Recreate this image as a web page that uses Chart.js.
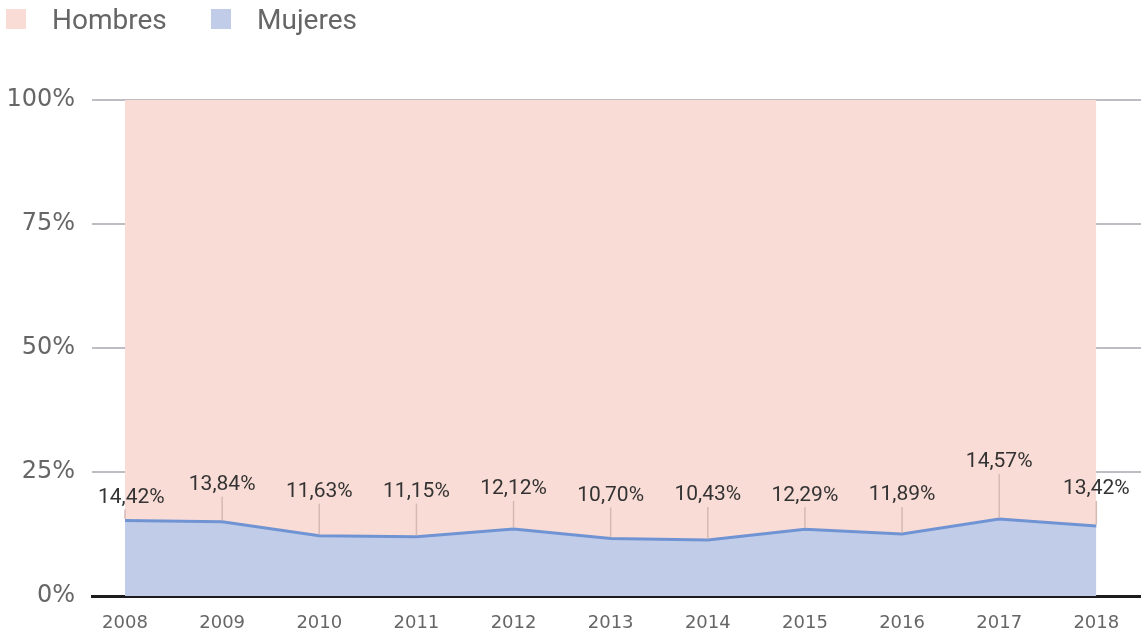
<!DOCTYPE html>
<html lang="es">
<head>
<meta charset="utf-8">
<title>Hombres y mujeres</title>
<script src="https://cdn.jsdelivr.net/npm/chart.js@4/dist/chart.umd.min.js"></script>
<style>
  html, body { margin: 0; padding: 0; background: #fff; }
  #wrap { position: relative; width: 1141px; height: 637px; font-family: Roboto, sans-serif; }
  #chart { position: absolute; left: 0; top: 0; }
  .legend-item { position: absolute; top: 0; height: 38px; display: flex; align-items: center; color: #666; font-size: 28px; }
  .legend-box { width: 20px; height: 20px; margin-right: 26px; }
</style>
</head>
<body>
<div id="wrap">
  <canvas id="chart" width="1141" height="637"></canvas>
  <div class="legend-item" style="left:6px"><span class="legend-box" style="background:#fadcd6"></span>Hombres</div>
  <div class="legend-item" style="left:211px"><span class="legend-box" style="background:#c1cde8"></span>Mujeres</div>
</div>
<script>
const years = [2008, 2009, 2010, 2011, 2012, 2013, 2014, 2015, 2016, 2017, 2018];
const yTicks = [0, 25, 50, 75, 100];
// share drawn by the line
const mujeres = [15.22, 14.98, 12.16, 11.96, 13.51, 11.59, 11.29, 13.45, 12.50, 15.52, 14.11];
const hombres = [84.78, 85.02, 87.84, 88.04, 86.49, 88.41, 88.71, 86.55, 87.50, 84.48, 85.89];
// printed labels on each point
const etiquetas = ["14,42%", "13,84%", "11,63%", "11,15%", "12,12%", "10,70%", "10,43%", "12,29%", "11,89%", "14,57%", "13,42%"];

const etiquetasPlugin = {
  id: "etiquetas",
  afterDraw(chart, args, opts) {
    const meta = chart.getDatasetMeta(0);
    const ctx = chart.ctx;
    const area = chart.chartArea;
    ctx.save();
    ctx.font = "21px Roboto, sans-serif";
    ctx.textAlign = "center";
    ctx.textBaseline = "middle";
    meta.data.forEach((pt, i) => {
      const ty = pt.y - opts.lift[i];
      ctx.strokeStyle = "#d6b9b2";
      ctx.lineWidth = 1.5;
      ctx.beginPath();
      ctx.moveTo(pt.x, ty + 12);
      ctx.lineTo(pt.x, pt.y - 1.5);
      ctx.stroke();
      const w = ctx.measureText(etiquetas[i]).width;
      let tx = pt.x;
      if (tx - w / 2 < area.left + 6) tx = area.left + 6 + w / 2;
      ctx.fillStyle = "#333";
      ctx.fillText(etiquetas[i], tx, ty);
    });
    ctx.restore();
  },
};

new Chart(document.getElementById("chart"), {
  type: "line",
  data: {
    datasets: [
      {
        label: "Mujeres",
        data: years.map((a, i) => ({ x: a, y: mujeres[i] })),
        fill: "origin",
        backgroundColor: "#c1cde8",
        borderColor: "#7094d3",
        borderWidth: 3,
        pointRadius: 0,
        tension: 0,
      },
      {
        label: "Hombres",
        data: years.map((a, i) => ({ x: a, y: hombres[i] })),
        fill: "-1",
        backgroundColor: "#fadcd6",
        borderWidth: 0,
        pointRadius: 0,
        tension: 0,
      },
    ],
  },
  options: {
    responsive: false,
    animation: false,
    layout: { padding: { top: 100, left: 0, right: 0, bottom: 0 } },
    plugins: {
      legend: { display: false },
      tooltip: { enabled: false },
      etiquetas: { lift: [23, 37, 44, 45, 40, 43, 45, 34, 39, 57, 37] },
    },
    scales: {
      x: {
        type: "linear",
        min: 2007.66,
        max: 2018.46,
        z: 1,
        afterBuildTicks: (axis) => { axis.ticks = years.map((v) => ({ value: v })); },
        afterFit: (axis) => { axis.height = 41; },
        grid: { display: false },
        border: { display: true, color: "#1c1c1c", width: 3 },
        ticks: {
          padding: 9,
          color: "#666",
          font: { family: "DejaVu Sans", size: 18 },
          maxRotation: 0,
          callback: (v) => String(v),
        },
      },
      y: {
        stacked: true,
        min: 0,
        max: 100,
        z: 1,
        afterBuildTicks: (axis) => { axis.ticks = yTicks.map((v) => ({ value: v })); },
        afterFit: (axis) => { axis.width = 92; },
        border: { display: false },
        grid: {
          drawTicks: false,
          lineWidth: 2,
          color: (c) => (c.tick && c.tick.value === 0 ? "rgba(0,0,0,0)" : "#bdbdc3"),
        },
        ticks: {
          padding: 17,
          color: "#666",
          font: { family: "DejaVu Sans", size: 24 },
          callback: (v) => v + "%",
        },
      },
    },
  },
  plugins: [etiquetasPlugin],
});
</script>
</body>
</html>
